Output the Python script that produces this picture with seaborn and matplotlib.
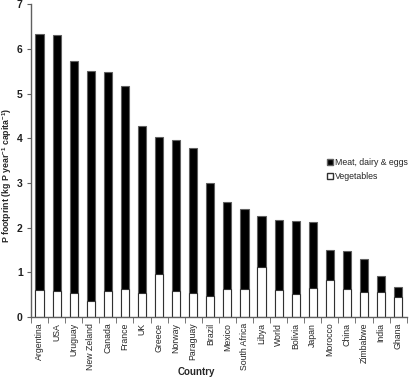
import numpy as np
import pandas as pd
import matplotlib
matplotlib.use("Agg")
import matplotlib.pyplot as plt
import seaborn as sns
from matplotlib.patches import Patch
from matplotlib.ticker import FixedLocator

countries = ["Argentina", "USA", "Uruguay", "New Zeland", "Canada", "France", "UK",
             "Greece", "Norway", "Paraguay", "Brazil", "Mexico", "South Africa", "Libya",
             "World", "Bolivia", "Japan", "Morocco", "China", "Zimbabwe", "India", "Ghana"]
vegetables = [0.61, 0.59, 0.55, 0.35, 0.58, 0.64, 0.55, 0.96, 0.58, 0.54, 0.48,
              0.63, 0.63, 1.13, 0.61, 0.51, 0.65, 0.84, 0.63, 0.56, 0.56, 0.44]
meat = [5.73, 5.71, 5.18, 5.16, 4.91, 4.52, 3.72, 3.06, 3.38, 3.24, 2.52,
        1.95, 1.79, 1.13, 1.57, 1.64, 1.48, 0.67, 0.85, 0.73, 0.37, 0.24]

df = pd.DataFrame({"Country": countries, "Vegetables": vegetables, "Meat": meat})
df["Total"] = df["Vegetables"] + df["Meat"]

sns.set_style("white")
plt.rcParams["font.family"] = ["Liberation Sans", "DejaVu Sans"]
plt.rcParams["mathtext.default"] = "regular"

fig = plt.figure(figsize=(4.12, 3.78), dpi=100)
ax = fig.add_axes([0.0752, 0.161, 0.912, 0.828])

sns.barplot(data=df, x="Country", y="Total", color="black", width=0.48,
            edgecolor="#606060", linewidth=0.8, saturation=1, ax=ax)
sns.barplot(data=df, x="Country", y="Vegetables", color="white", width=0.48,
            edgecolor="#303030", linewidth=0.8, saturation=1, ax=ax)

ax.set_xlim(-0.5, len(countries) - 0.5)
ax.set_ylim(0, 7)
ax.set_yticks(range(0, 8))
ax.tick_params(axis="y", labelsize=7.5, length=3, direction="out", color="#606060", left=True, pad=3)
ax.tick_params(axis="x", which="major", length=0, labelsize=6.3, rotation=90, pad=4)
ax.xaxis.set_minor_locator(FixedLocator(np.arange(-0.5, len(countries), 1.0)))
ax.tick_params(axis="x", which="minor", length=4, direction="out", color="#606060", bottom=True)
for lab in ax.get_yticklabels():
    lab.set_fontweight("bold")
    lab.set_color("#202020")

sns.despine(ax=ax)
for s in ["left", "bottom"]:
    ax.spines[s].set_color("#606060")
    ax.spines[s].set_linewidth(1.0)

ax.set_xlabel("Country", fontsize=7, fontweight="bold")
ax.xaxis.set_label_coords(0.44, -0.158)
ax.set_ylabel("P footprint (kg P year$^{-1}$ capita$^{-1}$)", fontsize=6.3, fontweight="bold")
ax.yaxis.set_label_coords(-0.046, 0.454)

handles = [Patch(facecolor="black", edgecolor="#606060", label="Meat, dairy & eggs"),
           Patch(facecolor="white", edgecolor="#303030", label="Vegetables")]
fig.legend(handles=handles, loc="upper left", bbox_to_anchor=(323 / 412, 1 - 154 / 378),
           frameon=False, borderpad=0, fontsize=6.3, handlelength=0.6, handleheight=0.7,
           handletextpad=0.25, labelspacing=0.55)

fig.savefig("out.png", dpi=100)
